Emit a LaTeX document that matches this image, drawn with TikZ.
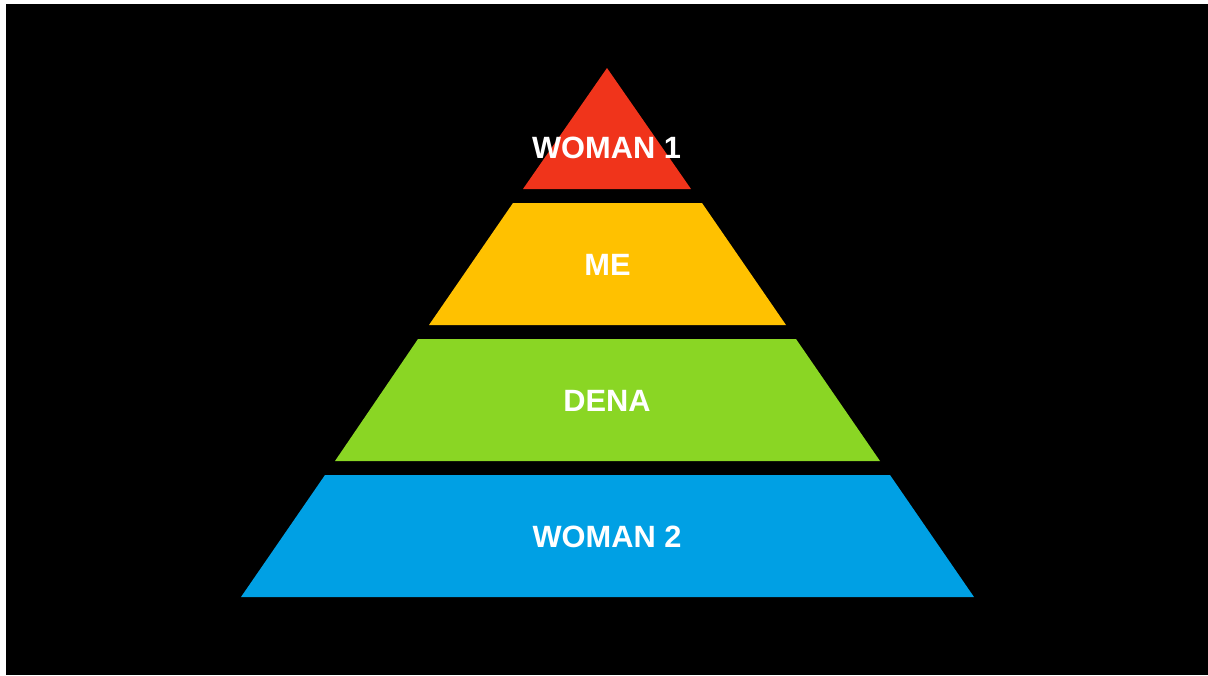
\documentclass[tikz,border=0pt]{standalone}
\usepackage{fontspec}
\setmainfont{Liberation Sans}
\definecolor{cred}{RGB}{240,52,27}
\definecolor{cyellow}{RGB}{255,193,0}
\definecolor{cgreen}{RGB}{138,214,36}
\definecolor{cblue}{RGB}{0,160,228}
\begin{document}
\begin{tikzpicture}[x=1pt,y=-1pt,
  lbl/.style={text=white,font=\fontsize{30.8}{36}\selectfont\bfseries,inner sep=0pt}]
\useasboundingbox (0,0) rectangle (1208,675);
\fill[white] (0,0) rectangle (1208,675);
\fill[black] (6,4) rectangle (1208,675);
\fill[cred] (607,68) -- (691,189) -- (523,189) -- cycle;
\fill[cyellow] (513,203) -- (702,203) -- (786,325) -- (429,325) -- cycle;
\fill[cgreen] (418,339) -- (796,339) -- (880,461) -- (335,461) -- cycle;
\fill[cblue] (325,475) -- (890,475) -- (974,597) -- (241,597) -- cycle;
\node[lbl] (w1) at (606.5,148) {WOMAN 1};
\node[lbl] (me) at (607.5,265) {ME};
\node[lbl] (dena) at (607,401) {DENA};
\node[lbl] (w2) at (607,537) {WOMAN 2};
\end{tikzpicture}
\end{document}
